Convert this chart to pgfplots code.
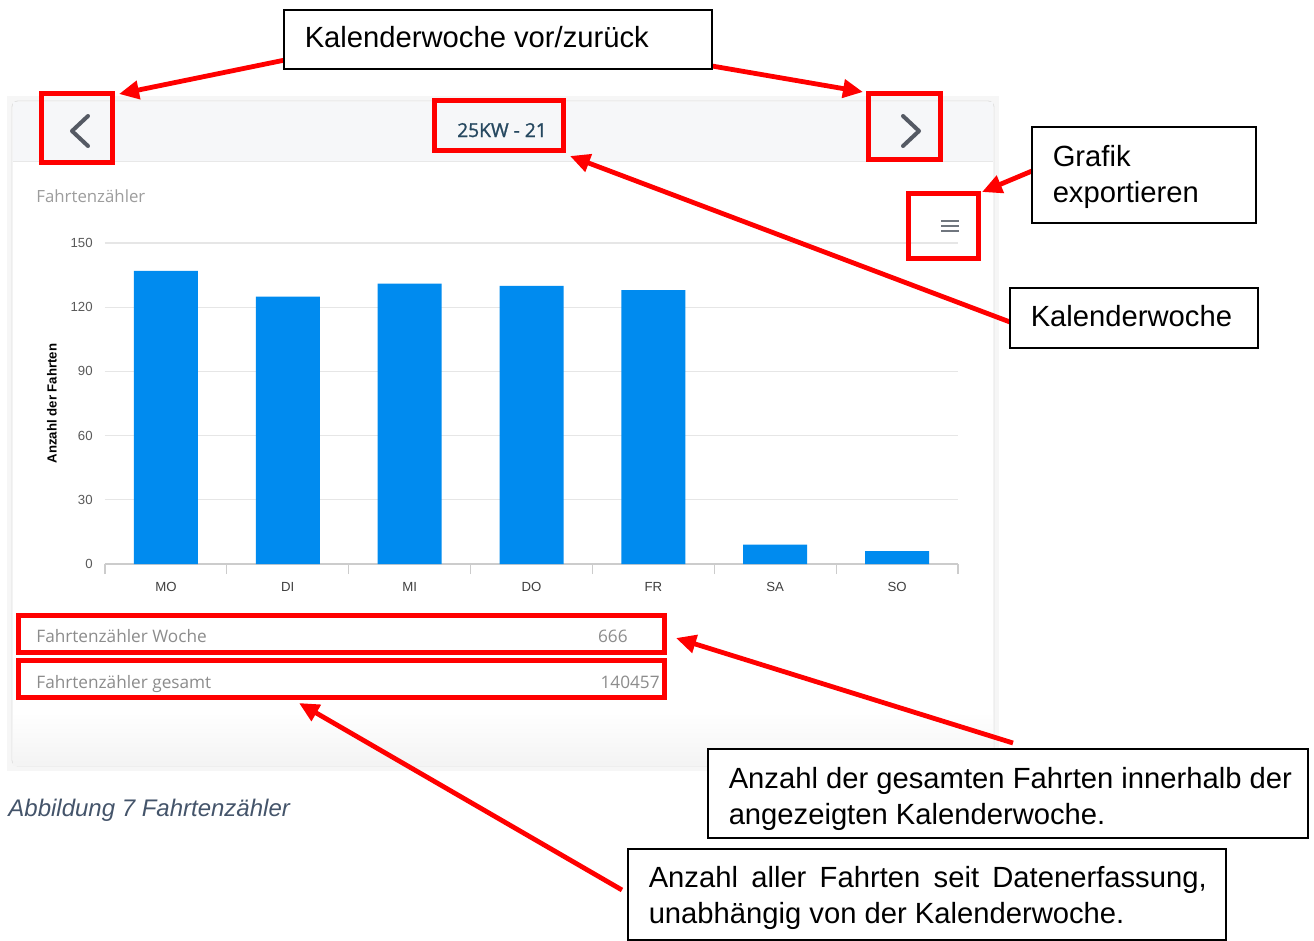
\documentclass[border=0pt]{standalone}
\usepackage{fontspec}
\setmainfont{Liberation Sans}
\newfontfamily\uifont{Open Sans}
\newfontfamily\uifontb{Open Sans}[FakeBold=1.2]
\usepackage{pgfplots}
\pgfplotsset{compat=1.18}
\usetikzlibrary{arrows.meta}
\definecolor{barblue}{RGB}{0,139,239}
\definecolor{annred}{RGB}{255,0,0}
\definecolor{gridc}{RGB}{230,230,230}
\definecolor{cardbg}{RGB}{246,247,249}
\definecolor{captionc}{RGB}{68,84,106}
\definecolor{kwc}{RGB}{38,72,96}
\definecolor{chev}{RGB}{85,90,100}
\definecolor{uigray}{RGB}{140,140,140}
\definecolor{tickc}{RGB}{90,90,90}
\definecolor{hamb}{RGB}{112,118,126}
\newcommand\annfont{\fontsize{14.6}{18}\selectfont}
\newcommand\uitext{\uifont\fontsize{8.6}{10}\selectfont}
\begin{document}
\begin{tikzpicture}
\begin{scope}[x=0.5pt,y=-0.5pt]
\path[use as bounding box] (0,0) rectangle (1314,936);
% card
\fill[gray!7] (7,96) rectangle (999,771);
\filldraw[fill=white, draw=gray!25, rounded corners=3pt] (12,101) rectangle (994,766);
\fill[cardbg] (13,102) rectangle (993,161);
\draw[gray!18] (13,161) -- (993,161);
\shade[top color=white, bottom color=gray!9] (13,712) rectangle (993,765);
% chevrons
\draw[chev, line width=2pt, line cap=round, line join=round] (88,116) -- (72,131) -- (88,146);
\draw[chev, line width=2pt, line cap=round, line join=round] (903,116) -- (919,131) -- (903,146);
\node[font=\uifontb\fontsize{9.6}{11}\selectfont, text=kwc, inner sep=0pt, anchor=base] at (502,137) {25KW - 21};
\node[anchor=base west, inner sep=0pt, font=\uifont\fontsize{8.4}{10}\selectfont, text=uigray!85] at (36,202) {Fahrtenzähler};
% hamburger
\foreach \yy in {221,226,231} \draw[hamb, line width=1pt] (941,\yy) -- (959,\yy);
% bottom rows
\node[anchor=base west, inner sep=0pt, font=\uitext, text=uigray] at (36,642) {Fahrtenzähler Woche};
\node[anchor=base east, inner sep=0pt, font=\uitext, text=uigray] at (628,642) {666};
\node[anchor=base west, inner sep=0pt, font=\uitext, text=uigray] at (36,688) {Fahrtenzähler gesamt};
\node[anchor=base east, inner sep=0pt, font=\uitext, text=uigray] at (660,688) {140457};
% caption
\node[anchor=base west, inner sep=0pt, font=\itshape\fontsize{12}{14}\selectfont, text=captionc] at (8,816) {Abbildung 7 Fahrtenzähler};
\end{scope}

\begin{axis}[
  at={(52.5pt,-282pt)}, anchor=south west,
  scale only axis, width=426.5pt, height=160.5pt,
  xmin=-0.5, xmax=6.5, ymin=0, ymax=150,
  ytick={0,30,...,150},
  xtick={0,...,6}, xticklabels={MO,DI,MI,DO,FR,SA,SO},
  minor xtick={-0.5,0.5,...,6.5},
  ymajorgrids, grid style={gridc, line width=0.6pt},
  axis x line*=bottom, axis y line*=left,
  y axis line style={draw=none},
  x axis line style={draw=gray!40, line width=0.6pt},
  major tick length=0pt, minor tick length=5pt, tick align=outside,
  every minor tick/.append style={gray!40, line width=0.6pt},
  /pgf/number format/assume math mode=true,
  yticklabel style={font=\fontsize{6.6}{7}\selectfont, text=tickc, anchor=east, inner sep=0pt, xshift=-6pt},
  xticklabel style={font=\fontsize{6.6}{7}\selectfont, text=black!75, anchor=north, inner sep=0pt, yshift=-9pt},
  ylabel={Anzahl der Fahrten},
  ylabel style={font=\bfseries\fontsize{6.6}{7}\selectfont, at={(axis description cs:-0.0621,0.5)}, anchor=center},
  clip=false,
]
\addplot[ybar, bar width=32pt, fill=barblue, draw=none] coordinates {
  (0,137) (1,125) (2,131) (3,130) (4,128) (5,9) (6,6)
};
\end{axis}

\begin{scope}[x=0.5pt,y=-0.5pt]
% red boxes
\begin{scope}[annred, line width=2.5pt]
\draw (41,93) rectangle (112,162);
\draw (434.5,100.5) rectangle (563.5,150.5);
\draw (868,93) rectangle (940,159);
\draw (908.5,193.5) rectangle (978.5,258.5);
\draw (18.5,615.5) rectangle (664.5,652.5);
\draw (18.5,660.5) rectangle (664.5,697.5);
\end{scope}
% red arrows
\begin{scope}[annred, line width=2.4pt, -{Triangle[length=10pt,width=9pt]}]
\draw (285,60) -- (119,94);
\draw (712,66) -- (863,92);
\draw (1010,322) -- (570,156);
\draw (1032,171) -- (982,192);
\draw (1013,743) -- (676,638);
\draw (622,890) -- (299,703);
\end{scope}
% annotation boxes
\begin{scope}[line width=0.75pt]
\filldraw[fill=white] (284,10) rectangle (712,69);
\node[anchor=base west, inner sep=0pt, font=\annfont] at (304,47) {Kalenderwoche vor/zurück};
\filldraw[fill=white] (1032,127) rectangle (1256,223);
\node[anchor=base west, inner sep=0pt, font=\annfont] at (1052,166) {Grafik};
\node[anchor=base west, inner sep=0pt, font=\annfont] at (1052,202) {exportieren};
\filldraw[fill=white] (1010,288) rectangle (1258,348);
\node[anchor=base west, inner sep=0pt, font=\annfont] at (1030,326) {Kalenderwoche};
\filldraw[fill=white] (708,749) rectangle (1308,838);
\node[anchor=base west, inner sep=0pt, font=\annfont] at (728,788) {Anzahl der gesamten Fahrten innerhalb der};
\node[anchor=base west, inner sep=0pt, font=\annfont] at (728,824) {angezeigten Kalenderwoche.};
\filldraw[fill=white] (628,849) rectangle (1226,940);
\node[anchor=base west, inner sep=0pt, font=\annfont] at (648,887) {\makebox[279pt][s]{Anzahl aller Fahrten seit Datenerfassung,}};
\node[anchor=base west, inner sep=0pt, font=\annfont] at (648,923) {unabhängig von der Kalenderwoche.};
\end{scope}
\end{scope}
\end{tikzpicture}
\end{document}
